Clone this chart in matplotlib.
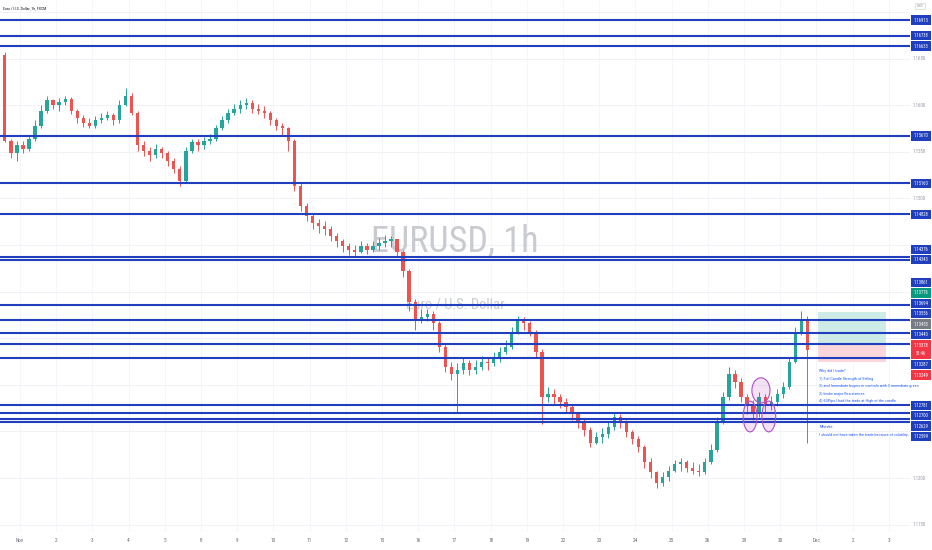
import numpy as np
import matplotlib
matplotlib.use("Agg")
import matplotlib.pyplot as plt
from matplotlib import font_manager as fm
from matplotlib.patches import Rectangle, Ellipse

# ---------------- data (EURUSD, 4h bars) ----------------
first_open = 1.1654
closes = [1.1562, 1.1549, 1.1557, 1.1553, 1.1564, 1.1578, 1.1594, 1.1605, 1.1600, 1.1603,
          1.1607, 1.1594, 1.1586, 1.1581, 1.1578, 1.1584, 1.1586, 1.1589, 1.1584, 1.1600,
          1.1610, 1.1592, 1.1557, 1.1551, 1.1546, 1.1553, 1.1549, 1.1540, 1.1532, 1.1519,
          1.1551, 1.1560, 1.1557, 1.1562, 1.1564, 1.1575, 1.1584, 1.1592, 1.1596, 1.1600,
          1.1602, 1.1596, 1.1594, 1.1592, 1.1584, 1.1578, 1.1575, 1.1562, 1.1513, 1.1492,
          1.1481, 1.1474, 1.1470, 1.1467, 1.1460, 1.1454, 1.1449, 1.1445, 1.1443, 1.1449,
          1.1445, 1.1449, 1.1452, 1.1454, 1.1456, 1.1443, 1.1422, 1.1389, 1.1370, 1.1373,
          1.1376, 1.1366, 1.1341, 1.1319, 1.1312, 1.1316, 1.1323, 1.1316, 1.1319, 1.1325,
          1.1323, 1.1329, 1.1335, 1.1341, 1.1357, 1.1370, 1.1366, 1.1357, 1.1335, 1.1287,
          1.1290, 1.1287, 1.1282, 1.1276, 1.1269, 1.1260, 1.1251, 1.1238, 1.1244, 1.1247,
          1.1255, 1.1265, 1.1260, 1.1249, 1.1242, 1.1233, 1.1217, 1.1206, 1.1195, 1.1201,
          1.1208, 1.1215, 1.1217, 1.1211, 1.1208, 1.1206, 1.1217, 1.1230, 1.1260, 1.1287,
          1.1312, 1.1303, 1.1287, 1.1279, 1.1271, 1.1287, 1.1279, 1.1282, 1.1290, 1.1298,
          1.1325, 1.1357, 1.1370, 1.13378]
highs = [1.1657, 1.1564, 1.1562, 1.1562, 1.1567, 1.1584, 1.1600, 1.1610, 1.1607, 1.1608,
         1.1610, 1.1609, 1.1596, 1.1589, 1.1586, 1.1588, 1.1592, 1.1594, 1.1592, 1.1605,
         1.1618, 1.1613, 1.1594, 1.1562, 1.1555, 1.1558, 1.1555, 1.1551, 1.1543, 1.1535,
         1.1555, 1.1564, 1.1564, 1.1566, 1.1569, 1.1579, 1.1588, 1.1596, 1.1601, 1.1605,
         1.1608, 1.1605, 1.1601, 1.1599, 1.1594, 1.1586, 1.1581, 1.1577, 1.1564, 1.1516,
         1.1495, 1.1484, 1.1478, 1.1476, 1.1470, 1.1463, 1.1456, 1.1452, 1.1450, 1.1454,
         1.1452, 1.1454, 1.1457, 1.1461, 1.1460, 1.1456, 1.1445, 1.1424, 1.1392, 1.1381,
         1.1381, 1.1379, 1.1368, 1.1344, 1.1325, 1.1323, 1.1329, 1.1327, 1.1327, 1.1331,
         1.1330, 1.1335, 1.1341, 1.1348, 1.1362, 1.1374, 1.1373, 1.1368, 1.1359, 1.1338,
         1.1298, 1.1295, 1.1290, 1.1286, 1.1279, 1.1271, 1.1264, 1.1255, 1.1249, 1.1254,
         1.1260, 1.1271, 1.1269, 1.1262, 1.1251, 1.1245, 1.1235, 1.1221, 1.1208, 1.1206,
         1.1213, 1.1219, 1.1221, 1.1219, 1.1217, 1.1215, 1.1222, 1.1236, 1.1265, 1.1292,
         1.1319, 1.1316, 1.1307, 1.1290, 1.1284, 1.1292, 1.1290, 1.1288, 1.1295, 1.1303,
         1.1330, 1.1362, 1.1379, 1.1374]
lows = [1.1560, 1.1543, 1.1540, 1.1549, 1.1551, 1.1562, 1.1575, 1.1592, 1.1596, 1.1594,
        1.1600, 1.1590, 1.1581, 1.1577, 1.1575, 1.1575, 1.1581, 1.1584, 1.1579, 1.1581,
        1.1599, 1.1589, 1.1551, 1.1545, 1.1540, 1.1543, 1.1543, 1.1535, 1.1527, 1.1513,
        1.1517, 1.1549, 1.1551, 1.1553, 1.1558, 1.1562, 1.1573, 1.1581, 1.1589, 1.1592,
        1.1596, 1.1592, 1.1590, 1.1586, 1.1579, 1.1573, 1.1568, 1.1551, 1.1508, 1.1486,
        1.1476, 1.1467, 1.1463, 1.1461, 1.1454, 1.1448, 1.1443, 1.1439, 1.1438, 1.1441,
        1.1440, 1.1442, 1.1445, 1.1448, 1.1448, 1.1438, 1.1416, 1.1379, 1.1359, 1.1366,
        1.1368, 1.1359, 1.1335, 1.1314, 1.1305, 1.1271, 1.1312, 1.1310, 1.1312, 1.1316,
        1.1316, 1.1320, 1.1325, 1.1333, 1.1338, 1.1355, 1.1359, 1.1352, 1.1330, 1.1258,
        1.1282, 1.1279, 1.1275, 1.1271, 1.1262, 1.1254, 1.1245, 1.1233, 1.1236, 1.1238,
        1.1243, 1.1251, 1.1254, 1.1244, 1.1236, 1.1228, 1.1211, 1.1200, 1.1189, 1.1191,
        1.1197, 1.1206, 1.1208, 1.1206, 1.1204, 1.1202, 1.1204, 1.1215, 1.1228, 1.1258,
        1.1284, 1.1297, 1.1282, 1.1269, 1.1262, 1.1265, 1.1271, 1.1273, 1.1277, 1.1286,
        1.1295, 1.1323, 1.1353, 1.1238]

bars_per_day = 6
bars_before_nov1 = 3
day_labels = ["Nov", "2", "3", "4", "5", "8", "9", "10", "11", "12", "15", "16", "17",
              "18", "19", "22", "23", "24", "25", "26", "29", "30", "Dec", "2", "3"]

levels = [1.16913, 1.16738, 1.16633, 1.15670, 1.15160, 1.14828, 1.14376, 1.14343,
          1.13861, 1.13694, 1.13556, 1.13440, 1.13287, 1.12781, 1.12700, 1.12629, 1.12599]
take_profit = 1.13776
entry_price = 1.13453
stop_loss = 1.13249
countdown = "51:46"
price_ticks = [1.1150, 1.1200, 1.1250, 1.1300, 1.1350, 1.1400, 1.1450, 1.1500,
               1.1550, 1.1600, 1.1650, 1.1700]

note_reasons = ("Why did I trade?\n"
                "1) Full Candle Strength of Selling\n"
                "2) and Immediate buyers in controls with 3 immediate green\n"
                "3) broke major Resistances\n"
                "4) 60Pips I had the trade at High of the candle")
note_mistake = ("Mistake:\n"
                "I should not have taken the trade because of volatility.")

# ---------------- style ----------------
avail = {f.name for f in fm.fontManager.ttflist}
NARROW = None
for cand in ["Liberation Sans Narrow", "Roboto Condensed", "Open Sans Condensed"]:
    if cand in avail:
        NARROW = cand
        break
FKW = dict(family=NARROW) if NARROW else dict(family="DejaVu Sans", stretch="condensed")

UP, DN = "#26a69a", "#ef5350"
LEVEL_C = "#1f3fbf"
GRID_C = "#eef0f5"
AXTXT = "#6a6d78"

W, H = 932, 550
fig = plt.figure(figsize=(W / 100, H / 100), dpi=100)
fig.patch.set_facecolor("white")
ax = fig.add_axes([0, 18 / H, 910 / W, 532 / H])
ax.set_facecolor("white")
ax.set_xlim(-0.8, 150.0)
ax.set_ylim(1.11421, 1.17128)
for s in ax.spines.values():
    s.set_visible(False)
ax.axhline(ax.get_ylim()[0], color="#d9dce3", lw=0.8, zorder=1)

# grid
day_pos = [bars_before_nov1 - 0.5 + bars_per_day * d for d in range(len(day_labels))]
for p in price_ticks:
    ax.axhline(p, color=GRID_C, lw=0.6, zorder=0)
for xp in day_pos:
    ax.axvline(xp, color="#f4f5f9", lw=0.6, zorder=0)

ax.set_yticks([])
ax.set_xticks(day_pos)
ax.set_xticklabels(day_labels, fontsize=3.8, color=AXTXT, **FKW)
ax.tick_params(axis="x", length=0, pad=4.5)

# watermark
ax.text(0.5, 0.527, "EURUSD, 1h", transform=ax.transAxes, ha="center", va="baseline",
        fontsize=26, color="#c9cbd1", zorder=1, **FKW)
ax.text(0.5, 0.42, "Euro / U.S. Dollar", transform=ax.transAxes, ha="center", va="baseline",
        fontsize=10.5, color="#c9cbd1", zorder=1, **FKW)

# candles
o = np.array([first_open] + closes[:-1])
c = np.array(closes)
hi = np.array(highs)
lo = np.array(lows)
x = np.arange(len(c))
col = np.where(c >= o, UP, DN)
ax.vlines(x, lo, hi, colors=col, lw=0.7, zorder=3)
ax.bar(x, np.maximum(np.abs(c - o), 0.00004), bottom=np.minimum(o, c), width=0.55,
       color=col, lw=0, zorder=4)

# position tool (long position box)
pos_x0, pos_x1 = len(c) + 0.8, len(c) + 12.0
ax.add_patch(Rectangle((pos_x0, entry_price), pos_x1 - pos_x0, take_profit - entry_price,
                       fc="#cdece7", ec="none", zorder=2))
ax.add_patch(Rectangle((pos_x0, stop_loss), pos_x1 - pos_x0, entry_price - stop_loss,
                       fc="#fbd6da", ec="none", zorder=2))

# horizontal levels
for lv in levels:
    ax.axhline(lv, color=LEVEL_C, lw=1.5, zorder=5)

# purple ellipse drawings
for (ex, ey, ew, eh) in [(125.3, 1.1294, 3.0, 0.0027), (123.5, 1.1266, 2.3, 0.0033),
                         (126.6, 1.1266, 2.3, 0.0033)]:
    ax.add_patch(Ellipse((ex, ey), ew, eh, fc=(0.61, 0.15, 0.69, 0.13), ec="#b04fc6",
                         lw=0.8, zorder=6))

# notes
ax.text(len(c) + 1.0, 1.1317, note_reasons, ha="left", va="top", fontsize=3.1,
        color="#2962ff", linespacing=2.2, zorder=7, clip_on=False, **FKW)
ax.text(len(c) + 1.0, 1.12565, note_mistake, ha="left", va="top", fontsize=3.1,
        color="#2962ff", linespacing=2.2, zorder=7, clip_on=False, **FKW)

# title
fig.text(3 / W, 1 - 8.5 / H, "Euro / U.S. Dollar, 1h, FXCM", ha="left", va="center",
         fontsize=2.9, color="#131722", **FKW)

# ---------------- right price scale labels ----------------
def ypix(p):
    return ax.transData.transform((0, p))[1]

BOX_H, GAP = 9.4, 1.0
anchor = (closes[-1], f"{closes[-1]:.5f}\n{countdown}", "#f23645", 2 * BOX_H)
others = [(lv, f"{lv:.5f}", LEVEL_C, BOX_H) for lv in levels]
others += [(take_profit, f"{take_profit:.5f}", "#089981", BOX_H),
           (entry_price, f"{entry_price:.5f}", "#787b86", BOX_H),
           (stop_loss, f"{stop_loss:.5f}", "#f23645", BOX_H)]

placed = []
ac = ypix(anchor[0])
placed.append((ac, anchor[1], anchor[2], anchor[3]))
prev_top = ac + anchor[3] / 2
for val, txt, bg, hh in sorted([t for t in others if t[0] > anchor[0]], key=lambda t: t[0]):
    cy = max(ypix(val), prev_top + GAP + hh / 2)
    placed.append((cy, txt, bg, hh))
    prev_top = cy + hh / 2
prev_bot = ac - anchor[3] / 2
for val, txt, bg, hh in sorted([t for t in others if t[0] <= anchor[0]], key=lambda t: -t[0]):
    cy = min(ypix(val), prev_bot - GAP - hh / 2)
    placed.append((cy, txt, bg, hh))
    prev_bot = cy - hh / 2

for cy, txt, bg, hh in placed:
    fig.patches.append(Rectangle((911, cy - hh / 2), 20, hh, transform=None,
                                 fc=bg, ec="none", zorder=10))
    fig.text(921 / W, cy / H, txt, ha="center", va="center",
             fontsize=3.3, color="white", linespacing=1.55, zorder=11, **FKW)

for p in price_ticks:
    yc = ypix(p)
    if yc > 535 or yc < 18:
        continue
    if any(cy - hh / 2 - 7 < yc < cy + hh / 2 + 7 for cy, _, _, hh in placed):
        continue
    fig.text(913 / W, yc / H, f"{p:.4f}", ha="left", va="center", fontsize=3.5,
             color="#9598a1", **FKW)

fig.text(920 / W, 1 - 6 / H, "USD", ha="center", va="center", fontsize=3.0,
         color="#9598a1", bbox=dict(boxstyle="square,pad=0.3", fc="white", ec="#c5c8d0", lw=0.4),
         **FKW)

fig.savefig("out.png", dpi=100)
